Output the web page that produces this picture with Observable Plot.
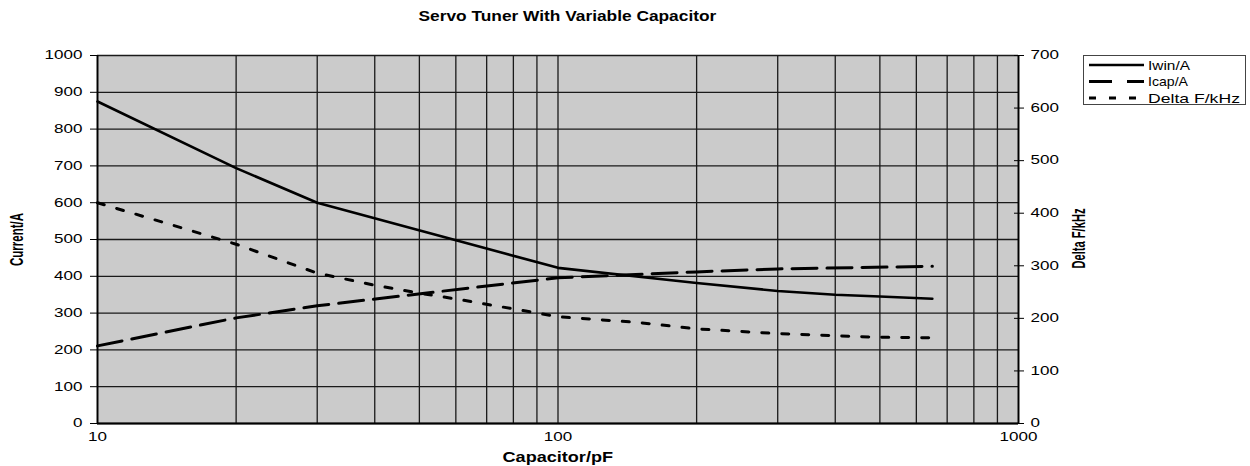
<!DOCTYPE html>
<html>
<head>
<meta charset="utf-8">
<script src="https://cdn.jsdelivr.net/npm/d3@7"></script>
<script src="https://cdn.jsdelivr.net/npm/@observablehq/plot@0.6"></script>
<style>
  html, body { margin: 0; padding: 0; background: #fff; }
  #wrap { position: relative; width: 1250px; height: 466px; font-family: "Liberation Sans", Arial, sans-serif; color: #000; overflow: hidden; }
  #title { height: 30px; position: relative; }
  .lbl { position: absolute; white-space: nowrap; font-weight: bold; line-height: 1; }
  #legend { position: absolute; left: 1083px; top: 55px; width: 161px; height: 48px; border: 1px solid #444; background: #fff; }
  #legend svg { position: absolute; left: 0; top: 0; overflow: visible; }
</style>
</head>
<body>
<div id="wrap">
  <div id="title"></div>
  <div id="chart"></div>
  <div id="legend"></div>
</div>
<script>
// ---- data ----
const iwinCap = [10, 20, 30, 100, 200, 300, 400, 500, 650];
const iwinVal = [875, 694, 600, 423, 382, 360, 350, 345, 339];

const icapCap = [10, 20, 30, 100, 200, 300, 650];
const icapVal = [211, 287, 320, 396, 412, 420, 427];

const deltaCap = [10, 20, 30, 40, 50, 60, 80, 100, 150, 200, 300, 400, 500, 650];
const deltaVal = [420, 341, 286, 263, 248, 237, 218, 203, 192, 180, 171, 167, 164, 163];

const xTickLabels = [10, 100, 1000];
const xGrid = [10,20,30,40,50,60,70,80,90,100,200,300,400,500,600,700,800,900,1000];
const leftTicks = [0,100,200,300,400,500,600,700,800,900,1000];
const rightTicks = [0,100,200,300,400,500,600,700];

const seriesNames = ["Iwin/A", "Icap/A", "Delta F/kHz"];
const titleText = "Servo Tuner With Variable Capacitor";
const xTitle = "Capacitor/pF";
const yLeftTitle = "Current/A";
const yRightTitle = "Delta F/kHz";
const rightToLeft = 1000 / 700;

const iwin = iwinCap.map((c, i) => ({cap: c, v: iwinVal[i]}));
const icap = icapCap.map((c, i) => ({cap: c, v: icapVal[i]}));
const delta = deltaCap.map((c, i) => ({cap: c, v: deltaVal[i] * rightToLeft}));

const plot = Plot.plot({
  width: 1250,
  height: 436,
  marginTop: 25,
  marginBottom: 43,
  marginLeft: 97,
  marginRight: 232,
  style: {fontFamily: "Liberation Sans, Arial, sans-serif", fontSize: "12px", background: "transparent", color: "#000"},
  x: {type: "log", domain: [10, 1000]},
  y: {domain: [0, 1000]},
  marks: [
    Plot.frame({fill: "url(#dither)", stroke: null}),
    Plot.ruleY(leftTicks, {stroke: "#1a1a1a", strokeWidth: 1.3}),
    Plot.ruleX(xGrid, {stroke: "#1a1a1a", strokeWidth: 1.3}),
    Plot.ruleX([10, 1000], {stroke: "#000", strokeWidth: 1.8}),
    Plot.ruleY([0], {stroke: "#000", strokeWidth: 1.8}),
    Plot.axisX({ticks: xTickLabels, tickFormat: d3.format("d"), tickSize: 0, tickPadding: 9, label: null}),
    Plot.axisY({anchor: "left", ticks: leftTicks, tickFormat: d3.format("d"), tickSize: 7, tickPadding: 8, label: null}),
    Plot.axisY({anchor: "right", ticks: rightTicks.map(t => t * rightToLeft), tickFormat: t => d3.format("d")(Math.round(t / rightToLeft)), tickSize: 10, tickPadding: 7, dx: -5, label: null}),
    Plot.line(delta, {x: "cap", y: "v", stroke: "#000", strokeWidth: 3, strokeDasharray: "7,13", curve: "linear"}),
    Plot.line(icap, {x: "cap", y: "v", stroke: "#000", strokeWidth: 3, strokeDasharray: "25,10", curve: "linear"}),
    Plot.line(iwin, {x: "cap", y: "v", stroke: "#000", strokeWidth: 2.6, curve: "linear"})
  ]
});

// dither pattern for the plot background
const svg = plot.tagName.toLowerCase() === "svg" ? plot : plot.querySelector("svg");
const ns = "http://www.w3.org/2000/svg";
const defs = document.createElementNS(ns, "defs");
defs.innerHTML = `<pattern id="dither" width="2" height="2" patternUnits="userSpaceOnUse">
  <rect width="2" height="2" fill="#dadada"/>
  <rect width="1" height="1" fill="#b8b8b8"/>
  <rect x="1" y="1" width="1" height="1" fill="#c0c0c0"/>
</pattern>`;
svg.insertBefore(defs, svg.firstChild);
document.getElementById("chart").appendChild(plot);

// the reference text is stretched horizontally; stretch tick labels about their anchor
const TICK_STRETCH = 1.42;
svg.querySelectorAll("text").forEach(t => {
  const bb = t.getBBox();
  const anchor = getComputedStyle(t).textAnchor;
  const ax = anchor === "end" ? bb.x + bb.width : anchor === "middle" ? bb.x + bb.width / 2 : bb.x;
  const prev = t.getAttribute("transform") || "";
  t.setAttribute("transform", `${prev} translate(${ax},0) scale(${TICK_STRETCH},1) translate(${-ax},0)`);
});

// HTML labels fitted to the widths measured on the reference
const wrap = document.getElementById("wrap");
function addLabel(text, cx, cy, size, targetLen, rotate, cross, family) {
  const d = document.createElement("div");
  d.className = "lbl";
  d.textContent = text;
  d.style.fontSize = size + "px";
  if (family) d.style.fontFamily = family;
  wrap.appendChild(d);
  const w = d.offsetWidth, h = d.offsetHeight;
  const s = targetLen / w;
  d.style.left = (cx - w / 2) + "px";
  d.style.top = (cy - h / 2) + "px";
  d.style.transform = rotate ? `rotate(-90deg) scale(${s},${cross})` : `scale(${s},1)`;
  return d;
}
addLabel(titleText, 567, 16, 14, 298, false);
addLabel(xTitle, 558, 457, 14, 111, false);
addLabel(yLeftTitle, 17, 239, 13, 53, true, 1.35, "Liberation Sans Narrow, Liberation Sans, sans-serif");
addLabel(yRightTitle, 1079, 238, 13, 60, true, 1.35, "Liberation Sans Narrow, Liberation Sans, sans-serif");

// legend
const leg = d3.select("#legend").append("svg").attr("width", 161).attr("height", 48);
const dashes = [null, "23,15", "7,13"];
const widths = [2.6, 3, 3];
const legTargets = [42, 40, 92];
seriesNames.forEach((name, i) => {
  const y = 9 + i * 16.5;
  const l = leg.append("line").attr("x1", 5).attr("x2", 60).attr("y1", y).attr("y2", y)
    .attr("stroke", "#000").attr("stroke-width", widths[i]);
  if (dashes[i]) l.attr("stroke-dasharray", dashes[i]);
  const tx = leg.append("text").attr("x", 0).attr("y", 0).attr("dy", "0.35em")
    .attr("font-family", "Liberation Sans, Arial, sans-serif").attr("font-size", 13).text(name);
  const w = tx.node().getComputedTextLength();
  tx.attr("transform", `translate(64,${y}) scale(${legTargets[i] / w},1)`);
});
</script>
</body>
</html>
